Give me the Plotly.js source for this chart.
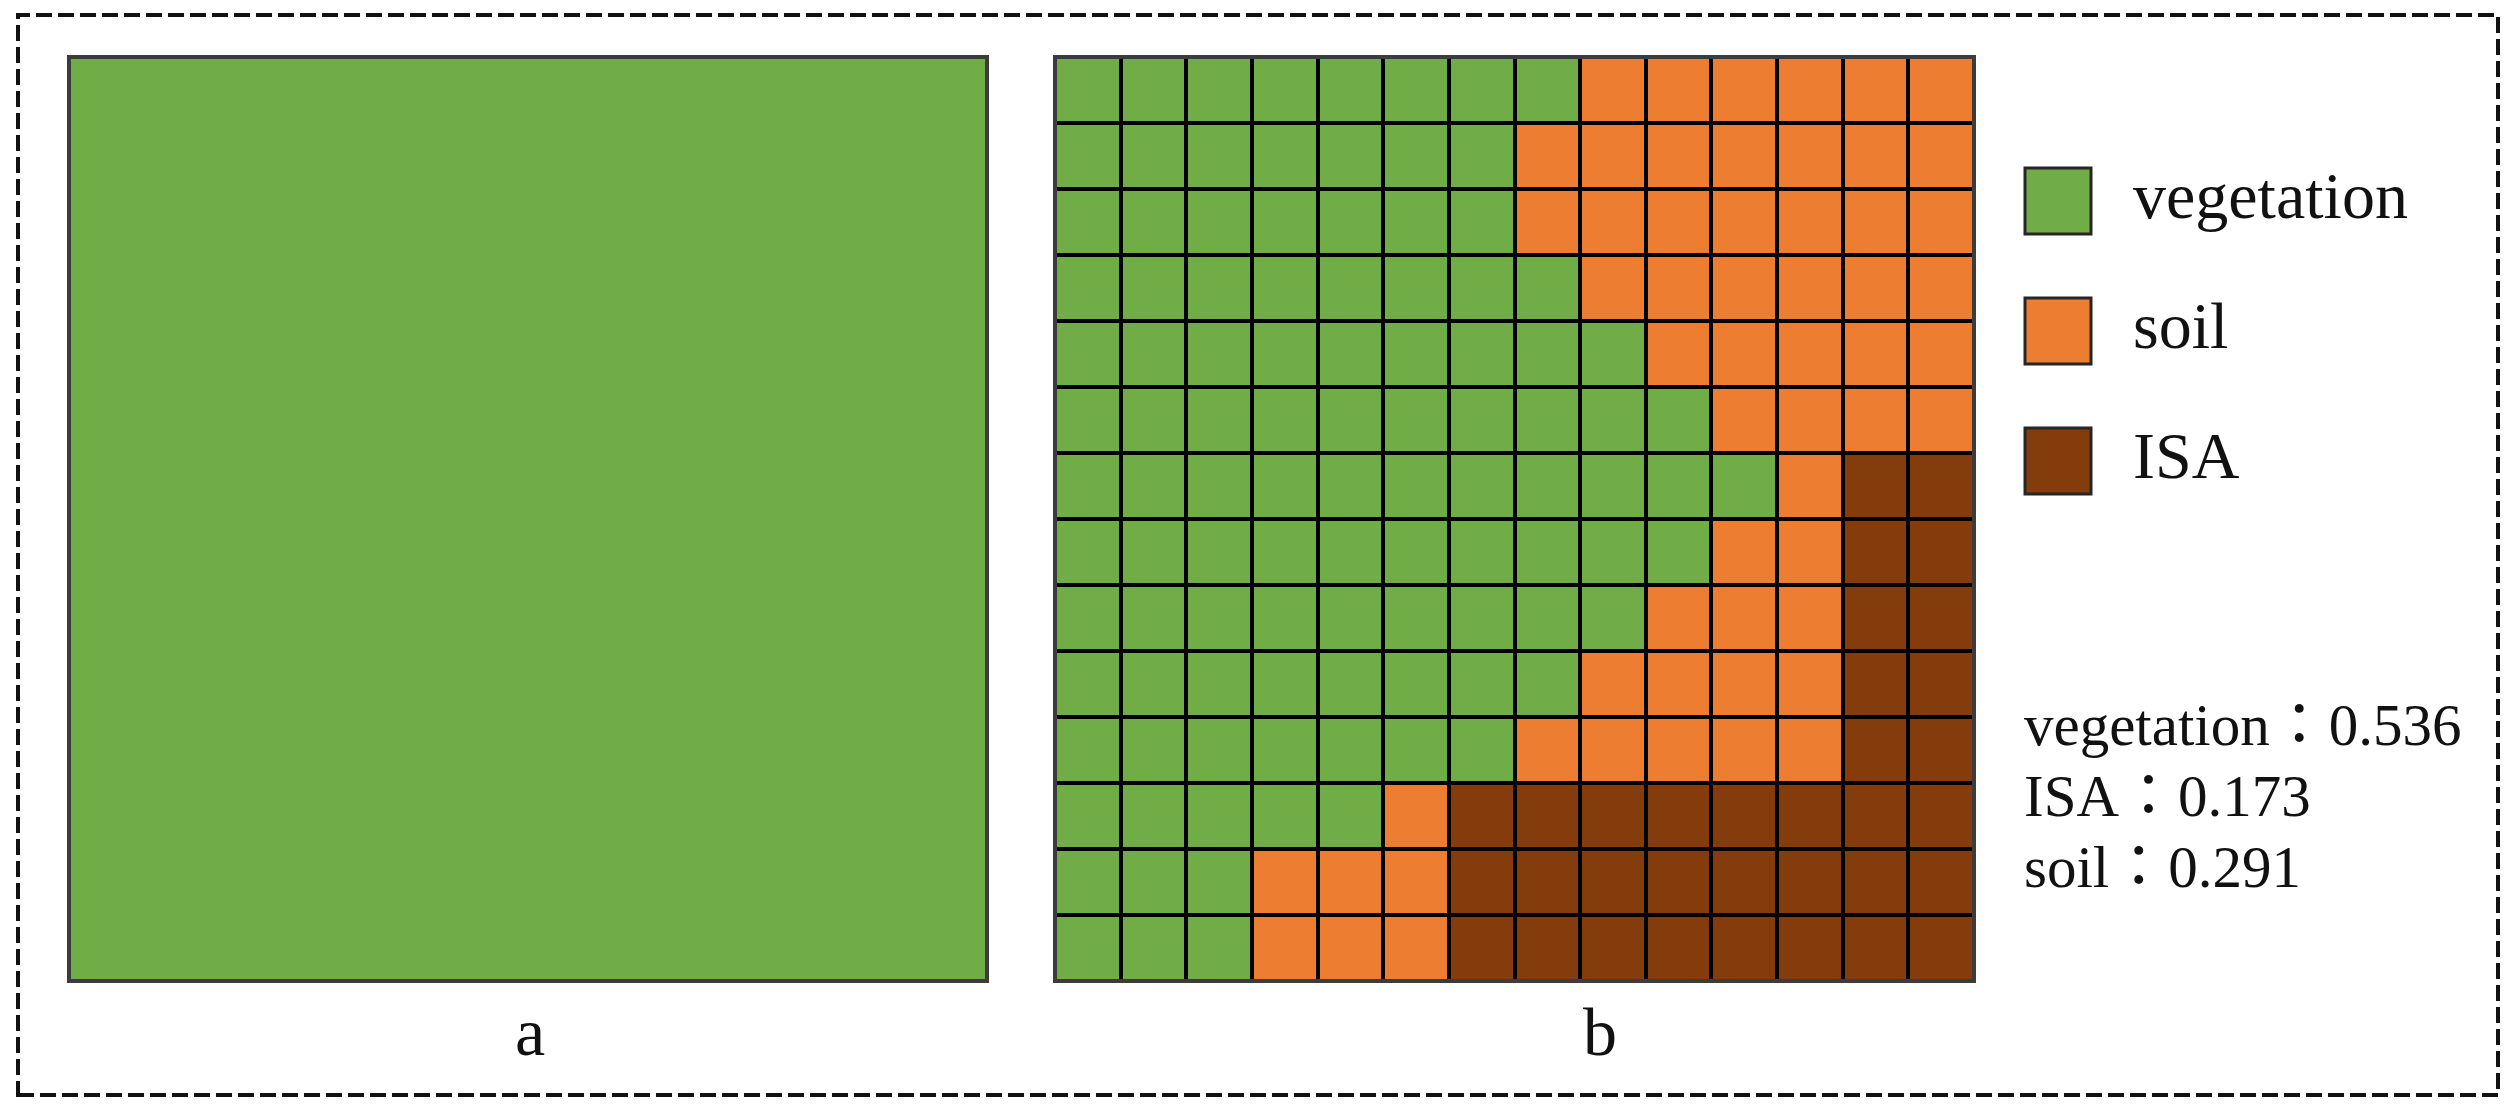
<!DOCTYPE html>
<html>
<head>
<meta charset="utf-8">
<script src="https://cdn.plot.ly/plotly-3.0.1.min.js"></script>
<style>
  html, body { margin: 0; padding: 0; background: #ffffff; }
  #chart { width: 2517px; height: 1112px; }
</style>
</head>
<body>
<div id="chart"></div>
<script>
// Land cover classes (code = index)
const classNames = ['vegetation', 'soil', 'ISA'];
const classColors = ['#70ad47', '#ed7d31', '#843c0c'];

// Panel a: the pixel as one pure vegetation cell
const panelA = [[0]];

// Panel b: 14 x 14 sub-pixel classes, top row first (0 vegetation, 1 soil, 2 ISA)
const gridClasses = [
    [0, 0, 0, 0, 0, 0, 0, 0, 1, 1, 1, 1, 1, 1],
    [0, 0, 0, 0, 0, 0, 0, 1, 1, 1, 1, 1, 1, 1],
    [0, 0, 0, 0, 0, 0, 0, 1, 1, 1, 1, 1, 1, 1],
    [0, 0, 0, 0, 0, 0, 0, 0, 1, 1, 1, 1, 1, 1],
    [0, 0, 0, 0, 0, 0, 0, 0, 0, 1, 1, 1, 1, 1],
    [0, 0, 0, 0, 0, 0, 0, 0, 0, 0, 1, 1, 1, 1],
    [0, 0, 0, 0, 0, 0, 0, 0, 0, 0, 0, 1, 2, 2],
    [0, 0, 0, 0, 0, 0, 0, 0, 0, 0, 1, 1, 2, 2],
    [0, 0, 0, 0, 0, 0, 0, 0, 0, 1, 1, 1, 2, 2],
    [0, 0, 0, 0, 0, 0, 0, 0, 1, 1, 1, 1, 2, 2],
    [0, 0, 0, 0, 0, 0, 0, 1, 1, 1, 1, 1, 2, 2],
    [0, 0, 0, 0, 0, 1, 2, 2, 2, 2, 2, 2, 2, 2],
    [0, 0, 0, 1, 1, 1, 2, 2, 2, 2, 2, 2, 2, 2],
    [0, 0, 0, 1, 1, 1, 2, 2, 2, 2, 2, 2, 2, 2]
];

// Abundance text block, in the order shown
const shareNames = ['vegetation', 'ISA', 'soil'];
const shareValues = [0.536, 0.173, 0.291];
const panelLabels = ['a', 'b'];

const W = 2517, H = 1112;
const px = x => x / W;
const py = y => 1 - y / H;
const serif = 'Liberation Serif, Times New Roman, Noto Sans CJK TC, Noto Sans CJK JP, serif';

const classScale = [
    [0, classColors[0]], [1 / 3, classColors[0]],
    [1 / 3, classColors[1]], [2 / 3, classColors[1]],
    [2 / 3, classColors[2]], [1, classColors[2]]
];

const hidden = { visible: false, showgrid: false, zeroline: false, fixedrange: true };

const traces = [
    {
        type: 'heatmap', z: panelA, xaxis: 'x', yaxis: 'y',
        colorscale: classScale, zmin: -0.5, zmax: 2.5, showscale: false, hoverinfo: 'skip'
    },
    {
        type: 'heatmap', z: gridClasses, xaxis: 'x2', yaxis: 'y2',
        colorscale: classScale, zmin: -0.5, zmax: 2.5, showscale: false,
        xgap: 4, ygap: 4, hoverinfo: 'skip'
    },
    // legend swatches
    {
        type: 'scatter', mode: 'markers', xaxis: 'x3', yaxis: 'y3',
        x: classNames.map(() => 58), y: classNames.map((_, i) => i),
        marker: { symbol: 'square', size: 66, color: classColors, line: { color: '#262626', width: 3 } },
        hoverinfo: 'skip', showlegend: false
    },
    // legend labels
    {
        type: 'scatter', mode: 'text', xaxis: 'x3', yaxis: 'y3',
        x: classNames.map(() => 133), y: classNames.map((_, i) => i),
        text: classNames, textposition: 'middle right',
        textfont: { family: serif, size: 66, color: '#111111' },
        hoverinfo: 'skip', showlegend: false
    }
];

const annotations = [
    { text: panelLabels[0], x: px(530), y: py(1032) },
    { text: panelLabels[1], x: px(1600), y: py(1032) }
].map(a => Object.assign(a, {
    xref: 'paper', yref: 'paper', showarrow: false, xanchor: 'center', yanchor: 'middle',
    font: { family: serif, size: 68, color: '#111111' }
}));

shareNames.forEach((name, i) => {
    annotations.push({
        text: name + '：' + shareValues[i].toFixed(3),
        xref: 'paper', yref: 'paper', x: px(2022), y: py(725 + i * 71),
        xanchor: 'left', yanchor: 'middle', showarrow: false,
        font: { family: serif, size: 59, color: '#111111' }
    });
});

const panelLine = { color: '#3c3c3c', width: 4 };

const layout = {
    width: W,
    height: H,
    margin: { l: 0, r: 0, t: 0, b: 0 },
    paper_bgcolor: '#ffffff',
    plot_bgcolor: 'rgba(0,0,0,0)',
    showlegend: false,
    xaxis: Object.assign({ domain: [px(69), px(987)], range: [-0.5, 0.5] }, hidden),
    yaxis: Object.assign({ domain: [py(981), py(57)], range: [-0.5, 0.5] }, hidden),
    xaxis2: Object.assign({ domain: [px(1055), px(1974)], range: [-0.5, 13.5] }, hidden),
    yaxis2: Object.assign({ domain: [py(981), py(57)], range: [13.5, -0.5] }, hidden),
    xaxis3: Object.assign({ domain: [px(2000), px(2500)], range: [0, 500] }, hidden),
    yaxis3: Object.assign({ domain: [py(526), py(136)], range: [2.5, -0.5] }, hidden),
    shapes: [
        // black grid lines show through the heatmap gaps
        { type: 'rect', xref: 'x2 domain', yref: 'y2 domain', x0: 0, x1: 1, y0: 0, y1: 1,
          fillcolor: '#000000', line: { width: 0 }, layer: 'below' },
        { type: 'rect', xref: 'x domain', yref: 'y domain', x0: 0, x1: 1, y0: 0, y1: 1, line: panelLine },
        { type: 'rect', xref: 'x2 domain', yref: 'y2 domain', x0: 0, x1: 1, y0: 0, y1: 1, line: panelLine },
        // dashed frame round the whole figure
        { type: 'rect', xref: 'paper', yref: 'paper', x0: px(18), x1: px(2498), y0: py(1095), y1: py(15),
          line: { color: '#111111', width: 4, dash: '16px,6px' } }
    ],
    annotations: annotations
};

Plotly.newPlot('chart', traces, layout, { staticPlot: true, displayModeBar: false });
</script>
</body>
</html>
